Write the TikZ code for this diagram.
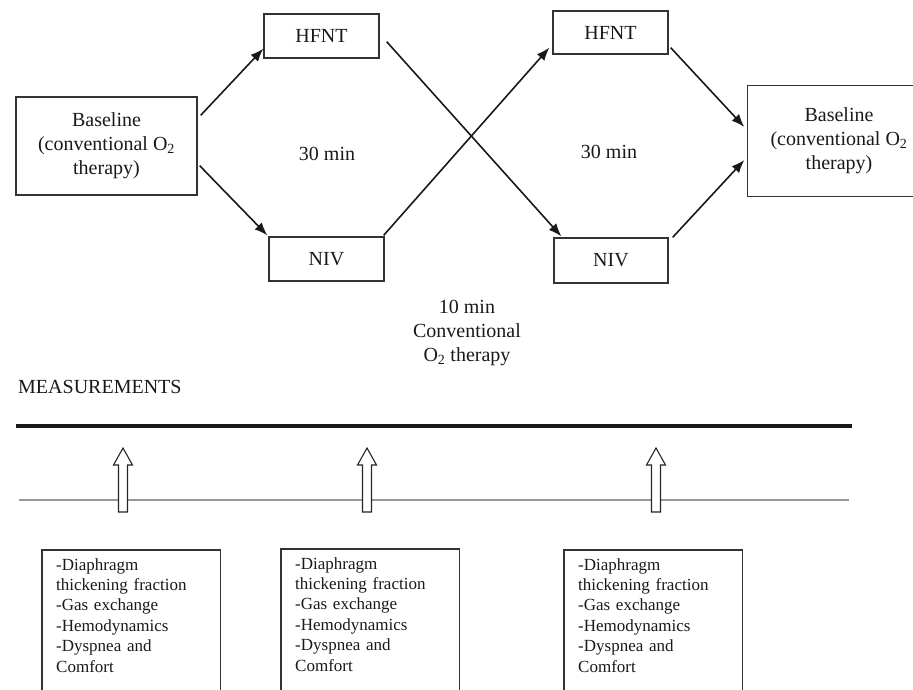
\documentclass[tikz,border=0pt]{standalone}
\usepackage{fontspec}
\setmainfont{Liberation Serif}
\usetikzlibrary{arrows.meta,calc}

\tikzset{
  box/.style={draw=black!80, line width=1.3pt, fill=white, align=center,
    font=\fontsize{20}{24}\selectfont, text=black!90, inner sep=0pt},
  lbl/.style={align=center, font=\fontsize{20}{24}\selectfont, text=black!90},
  flow/.style={line width=1.6pt, draw=black!90,
    -{Latex[length=13pt,width=10pt]}},
  mtext/.style={align=left, text width=150pt, inner xsep=14pt, inner ysep=8pt,
    font=\fontsize{17}{20.4}\selectfont, text=black!90, anchor=north west},
  mframe/.style={draw=black!80, line width=1.3pt},
  hollow/.style={draw=black!85, line width=1.1pt, fill=white}
}

\begin{document}
\begin{tikzpicture}[x=1pt,y=-1pt]
\useasboundingbox (0,0) rectangle (913,689);
\clip (0,0) rectangle (913,689);

% treatment boxes
\node[box, minimum width=181pt, minimum height=98pt] (b1) at (106.5,146)
  {Baseline\\(conventional O\textsubscript{2}\\therapy)};
% the final baseline box runs past the right edge of the page
\node[box, draw=none, fill=none, minimum width=182pt, minimum height=110pt] (b2) at (839,141)
  {Baseline\\(conventional O\textsubscript{2}\\therapy)};
\draw[draw=black!80, line width=1.3pt] (b2.north west) rectangle ($(b2.south west)+(240,0)$);
\node[box, minimum width=115pt, minimum height=44pt] (h1) at (321.5,36) {HFNT};
\node[box, minimum width=115pt, minimum height=44pt] (n1) at (326.5,259) {NIV};
\node[box, minimum width=115pt, minimum height=43pt] (h2) at (610.5,32.5) {HFNT};
\node[box, minimum width=114pt, minimum height=45pt] (n2) at (611,260.5) {NIV};

% durations
\node[lbl] (t1) at (327,154) {30 min};
\node[lbl] (t2) at (609,152) {30 min};
\node[lbl] (wash) at (467,333) {10 min\\Conventional\\O\textsubscript{2} therapy};

% crossover paths
\draw[flow] ($(b1.north east)+(3,19)$) -- ($(h1.south west)+(0,-10)$);
\draw[flow] ($(b1.south east)+(2,-30)$) -- ($(n1.north west)+(-1,-1)$);
\draw[flow] ($(h1.south east)+(7,-17)$) -- ($(n2.north west)+(8,-1)$);
\draw[flow] ($(n1.north east)+(-1,-1)$) -- ($(h2.south west)+(-3,-7)$);
\draw[flow] ($(h2.south east)+(2,-7)$) -- ($(b2.west)+(-3,-14)$);
\draw[flow] ($(n2.north east)+(4,0)$) -- ($(b2.west)+(-3,19)$);

% measurement timeline
\node[lbl, anchor=west, inner sep=0pt] (meas) at (18,387) {MEASUREMENTS};
\coordinate (tl0) at (16,426);
\coordinate (tl1) at (852,426);
\draw[line width=4pt, black!90] (tl0) -- (tl1);
\coordinate (gl0) at (19,500);
\coordinate (gl1) at (849,500);
\draw[line width=2pt, black!40] (gl0) -- (gl1);

% hollow arrows marking the measurement points
\foreach \ax in {123,367,656}{
  \draw[hollow] (\ax-4.5,512) -- (\ax-4.5,465) -- (\ax-9.5,465) -- (\ax,448)
    -- (\ax+9.5,465) -- (\ax+4.5,465) -- (\ax+4.5,512) -- cycle;
}

% measurement boxes
\newcommand{\measlist}{-Diaphragm\\thickening fraction\\-Gas exchange\\-Hemodynamics\\-Dyspnea and\\Comfort}
\node[mtext] (m1) at (42,550) {\measlist};
\node[mtext] (m2) at (281,549) {\measlist};
\node[mtext] (m3) at (564,550) {\measlist};
\foreach \m in {m1,m2,m3}{
  \draw[mframe] (\m.north west) rectangle ($(\m.north east)+(0,170)$);
}
\end{tikzpicture}
\end{document}
